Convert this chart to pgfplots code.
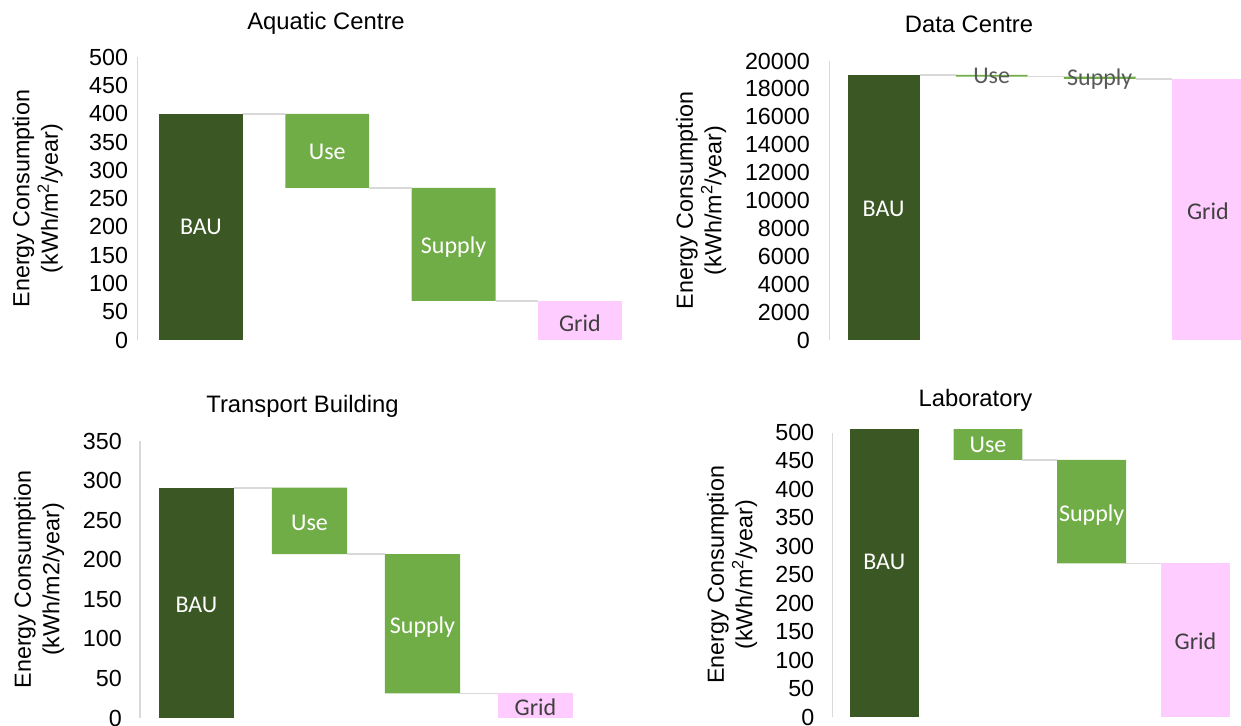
\documentclass[border=0pt]{standalone}
\usepackage{pgfplots}
\pgfplotsset{compat=1.18}
\usepackage{pgfplotstable}
\usepackage{fontspec}
\setmainfont{Liberation Sans}
\newfontfamily\calibri{Carlito}

\definecolor{baugreen}{HTML}{3B5724}
\definecolor{usegreen}{HTML}{70AD47}
\definecolor{gridpink}{HTML}{FFCCFF}
\definecolor{axisgray}{HTML}{D9D9D9}
\definecolor{labgray}{HTML}{404040}
\definecolor{midgray}{HTML}{595959}

\newcommand{\tickfont}{\fontsize{23.3bp}{28.5bp}\selectfont}
\newcommand{\titlefont}{\fontsize{23.8bp}{28.5bp}\selectfont}
\newcommand{\barfont}{\calibri\fontsize{24bp}{28bp}\selectfont}

\pgfplotstableread{
x base bau chg grid
0 0 400 0 0
1 269 0 131 0
2 69 0 200 0
3 0 0 0 69
}\aquatic

\pgfplotstableread{
x base bau chg grid
0 0 19000 0 0
1 18880 0 120 0
2 18720 0 160 0
3 0 0 0 18720
}\datacentre

\pgfplotstableread{
x base bau chg grid
0 0 291 0 0
1 207 0 84 0
2 31 0 176 0
3 0 0 0 31
}\transport

\pgfplotstableread{
x base bau chg grid
0 0 506 0 0
1 452 0 54 0
2 270 0 182 0
3 0 0 0 270
}\laboratory

\pgfplotsset{
  wf/.style={
    scale only axis, ybar stacked, bar width=0.665,
    reverse stacked plots=false,
    enlargelimits=false, ymin=0, xmin=-0.5, xmax=3.5,
    axis x line=none, axis y line*=left,
    y axis line style={draw=axisgray, line width=1.3bp},
    xtick=\empty, major tick length=0pt,
    yticklabel style={font=\tickfont, inner sep=0pt, anchor=east, text=black},
    /pgf/number format/assume math mode=true,
    /pgf/number format/1000 sep={},
    scaled y ticks=false,
    clip=false,
    every axis title/.style={font=\titlefont, anchor=base},
    every axis y label/.style={font=\tickfont, align=center, rotate=90, anchor=center},
  },
  conn/.style={sharp plot, stack plots=false, draw=axisgray, line width=1.6bp, forget plot},
}

\newcommand{\wfbars}[1]{%
  \addplot[fill=none, draw=none] table[x=x,y=base]{#1};
  \addplot[fill=baugreen, draw=none] table[x=x,y=bau]{#1};
  \addplot[fill=usegreen, draw=none] table[x=x,y=chg]{#1};
  \addplot[fill=gridpink, draw=none] table[x=x,y=grid]{#1};
}

\begin{document}
\begin{tikzpicture}
\useasboundingbox (0,0) rectangle (1241bp,-726bp);

% Aquatic Centre
\begin{axis}[wf,
  at={(137.8bp,-340bp)}, anchor=south west,
  width=505.2bp, height=282.7bp,
  ymax=500, ytick={0,50,...,500},
  yticklabel style={xshift=-9.5bp},
  title={Aquatic Centre},
  title style={at={(axis description cs:0.3725,1.1001)}},
  ylabel={Energy Consumption\\(kWh/m\textsuperscript{2}/year)},
  ylabel style={at={(axis description cs:-0.1985,0.5)}},
]
\wfbars{\aquatic}
\addplot[conn] coordinates {(0.3325,400) (0.6675,400)};
\addplot[conn] coordinates {(1.3325,269) (1.6675,269)};
\addplot[conn] coordinates {(2.3325,69) (2.6675,69)};
\node[font=\barfont, text=white] at (axis cs:0,200) {BAU};
\node[font=\barfont, text=white] at (axis cs:1,333) {Use};
\node[font=\barfont, text=white] at (axis cs:2,165) {Supply};
\node[font=\barfont, text=labgray] at (axis cs:3,29) {Grid};
\end{axis}

% Data Centre
\begin{axis}[wf,
  at={(829.5bp,-340bp)}, anchor=south west,
  width=432.4bp, height=279bp,
  ymax=20000, ytick={0,2000,...,20000},
  yticklabel style={xshift=-19.5bp},
  title={Data Centre},
  title style={at={(axis description cs:0.3226,1.1039)}},
  ylabel={Energy Consumption\\(kWh/m\textsuperscript{2}/year)},
  ylabel style={at={(axis description cs:-0.297,0.5)}},
]
\wfbars{\datacentre}
\addplot[conn] coordinates {(0.3325,19000) (0.6675,19000)};
\addplot[conn] coordinates {(1.3325,18880) (1.6675,18880)};
\addplot[conn] coordinates {(2.3325,18720) (2.6675,18720)};
\node[font=\barfont, text=white] at (axis cs:0,9400) {BAU};
\node[font=\barfont, text=midgray] at (axis cs:1,18900) {Use};
\node[font=\barfont, text=midgray] at (axis cs:2,18700) {Supply};
\node[font=\barfont, text=labgray] at (axis cs:3,9250) {Grid};
\end{axis}

% Transport Building
\begin{axis}[wf,
  at={(140bp,-718bp)}, anchor=south west,
  width=452bp, height=277bp,
  ymax=350, ytick={0,50,...,350},
  yticklabel style={xshift=-18bp},
  title={Transport Building},
  title style={at={(axis description cs:0.3595,1.1047)}},
  ylabel={Energy Consumption\\(kWh/m2/year)},
  ylabel style={at={(axis description cs:-0.2235,0.5)}},
]
\wfbars{\transport}
\addplot[conn] coordinates {(0.3325,291) (0.6675,291)};
\addplot[conn] coordinates {(1.3325,207) (1.6675,207)};
\addplot[conn] coordinates {(2.3325,31) (2.6675,31)};
\node[font=\barfont, text=white] at (axis cs:0,143) {BAU};
\node[font=\barfont, text=white] at (axis cs:1,246) {Use};
\node[font=\barfont, text=white] at (axis cs:2,115) {Supply};
\node[font=\barfont, text=labgray] at (axis cs:3,13) {Grid};
\end{axis}

% Laboratory
\begin{axis}[wf,
  at={(832.4bp,-717bp)}, anchor=south west,
  width=414.9bp, height=284.5bp,
  ymax=500, ytick={0,50,...,500},
  yticklabel style={xshift=-18bp},
  title={Laboratory},
  title style={at={(axis description cs:0.3449,1.0931)}},
  ylabel={Energy Consumption\\(kWh/m\textsuperscript{2}/year)},
  ylabel style={at={(axis description cs:-0.242,0.5)}},
]
\wfbars{\laboratory}
\addplot[conn] coordinates {(1.3325,452) (1.6675,452)};
\addplot[conn] coordinates {(2.3325,270) (2.6675,270)};
\node[font=\barfont, text=white] at (axis cs:0,272) {BAU};
\node[font=\barfont, text=white] at (axis cs:1,478) {Use};
\node[font=\barfont, text=white] at (axis cs:2,355) {Supply};
\node[font=\barfont, text=labgray] at (axis cs:3,133) {Grid};
\end{axis}
\end{tikzpicture}
\end{document}
